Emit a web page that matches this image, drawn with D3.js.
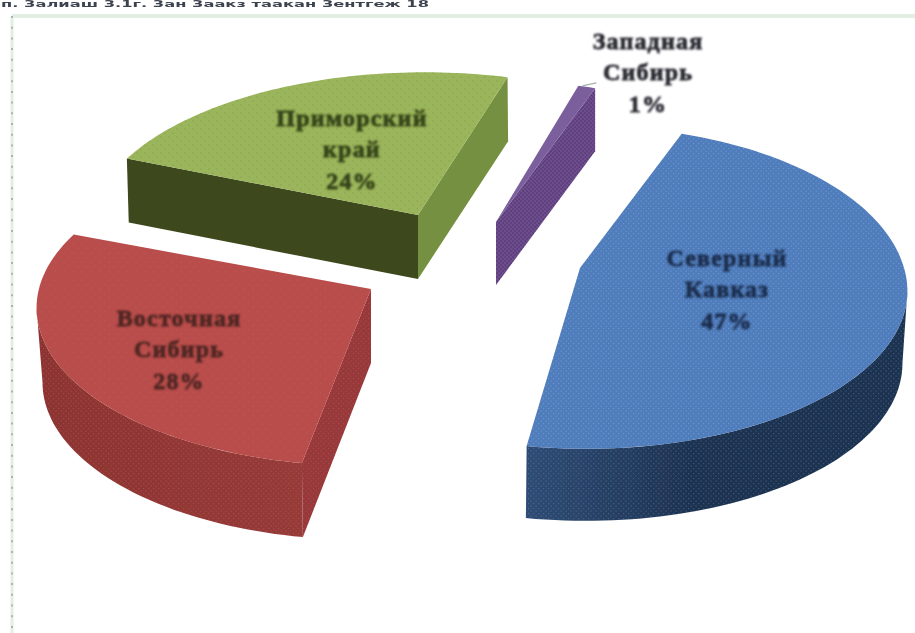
<!DOCTYPE html>
<html><head><meta charset="utf-8">
<script src="https://cdn.jsdelivr.net/npm/d3@7"></script>
<style>html,body{margin:0;padding:0;background:#fff}svg{display:block}</style>
</head><body><svg id="c" width="915" height="633"></svg>
<script>
const regions = ["Северный Кавказ","Восточная Сибирь","Приморский край","Западная Сибирь"];
const shares = [47,28,24,1];
const labelLines = [["Северный","Кавказ"],["Восточная","Сибирь"],["Приморский","край"],["Западная","Сибирь"]];
const headerText = "п. 3алиаш 3.1г. 3ан 3аакз таакан 3ентгеж 18";

// drawing configuration (per-slice placement of the exploded 3D pie)
const W=915,H=633;
const rad=Math.PI/180;
const styles=[
 {top:"#4f7cba",rim:["#1d3250","#2f4c74"],wall:"#27466f",text:"#1b2d4d",dot:"#7fa6dc",rimDot:"#6a8fc4",dotStep:5,dotOp:.6},
 {top:"#b94e4b",rim:["#8c3331","#963a38"],wall:"#97373a",text:"#4f2622",dot:"#c96a66",rimDot:"#c06a62",dotStep:9,dotOp:.3},
 {top:"#9bb55b",rim:["#3d481c","#3d481c"],wall:"#3d481c",wall2:"#74903f",text:"#36451a",dot:"#77913c",rimDot:"#3d481c",dotStep:8,dotOp:.6},
 {top:"#7a5e9c",rim:["#5a3f78","#5a3f78"],wall:"#6d4e8e",text:"#2a2a33",dot:"#7a5e9c",rimDot:"#5a3f78",dotStep:8,dotOp:0}
];
const place=[
 {apex:[580,268],cx:586,ay:268,R:318,back:1.05,depth:72,shift:-5,lx:727,ly:258},
 {apex:[371,289],cx:362,ay:285,R:322,back:1,depth:74,shift:6,lx:179,ly:318},
 {apex:[418,215],cx:425,ay:210,R:333,back:1.02,depth:64,shift:2,lx:352,ly:118},
 {apex:[496,222],cx:500,ay:216,R:316,back:1,depth:63,shift:0,lx:648,ly:41}
];
const T=154.6,k=0.145;

const svg=d3.select("#c");
const defs=svg.append("defs");
const blur=defs.append("filter").attr("id","soft").attr("x","-5%").attr("y","-5%").attr("width","110%").attr("height","110%");
blur.append("feGaussianBlur").attr("stdDeviation",0.55);
const blurT=defs.append("filter").attr("id","softT").attr("x","-5%").attr("y","-20%").attr("width","110%").attr("height","140%");
blurT.append("feGaussianBlur").attr("stdDeviation",0.95);

function dots(id,color,opacity,step){
  const p=defs.append("pattern").attr("id",id).attr("width",step).attr("height",step).attr("patternUnits","userSpaceOnUse");
  [[0.5,0.5],[step/2+0.5,step/2+0.5]].forEach(c=>p.append("rect").attr("x",c[0]).attr("y",c[1]).attr("width",1.2).attr("height",1.2).attr("fill",color).attr("opacity",opacity));
}
styles.forEach((s,i)=>{
  dots("lt"+i,s.dot,s.dotOp,s.dotStep);
  dots("rd"+i,s.rimDot,.4,5);
});
dots("pw","#2c1440",.6,4);

const root=svg.append("g");
root.append("rect").attr("width",W).attr("height",H).attr("fill","#fff");
root.append("line").attr("x1",12).attr("y1",16).attr("x2",915).attr("y2",16).attr("stroke","#e2eee2").attr("stroke-width",4);
root.append("line").attr("x1",12).attr("y1",16).attr("x2",12).attr("y2",633).attr("stroke","#e2eee2").attr("stroke-width",3);
root.append("line").attr("x1",12).attr("y1",16).attr("x2",12).attr("y2",633).attr("stroke","#a7b9a8").attr("stroke-width",2).attr("stroke-dasharray","2 8.7");
svg.append("text").attr("x",1).attr("y",7).attr("font-family","DejaVu Sans").attr("font-size",8).attr("font-weight","bold").attr("textLength",428).attr("lengthAdjust","spacingAndGlyphs").attr("fill","#3d4350").attr("filter","url(#soft)").text(headerText);

const pie=d3.pie().sort(null).startAngle(20*rad).endAngle(380*rad);
const arcs=pie(shares);
// homography: a circle on the plane of the pie maps to a true ellipse on screen
const project=(p,a,bottom=false)=>{
  const u=Math.sin(a), v=-Math.cos(a), w=1-k*v;
  const h=T*v/w*(v<0?p.back:1);
  return [p.cx+p.R*u/w+(bottom?p.shift*Math.abs(u):0), p.ay+h+(bottom?p.depth:0)];
};
const line=d3.line();
const sample=(a0,a1)=>{const n=Math.max(2,Math.ceil((a1-a0)/(1.5*rad)));return d3.range(n+1).map(i=>a0+(a1-a0)*i/n);};
const sil=Math.acos(-k);

const g=root.append("g").attr("filter","url(#soft)");
shares.forEach((_,i)=>{
  const d=arcs[i],p=place[i],st=styles[i];
  const a0=d.startAngle,a1=d.endAngle;
  const apex=p.apex,apexB=[p.apex[0],p.apex[1]+p.depth];
  const sl=g.append("g");
  // walls along the radial cuts, when they face the viewer
  [[a0,a0-Math.PI/2],[a1,a1+Math.PI/2]].forEach(([a,n],j)=>{
    if(Math.cos(n)>=0) return;
    const poly=[apex,project(p,a),project(p,a,true),apexB];
    const pd=line(poly)+"Z";
    sl.append("path").attr("d",pd).attr("fill",(j===1&&st.wall2)?st.wall2:st.wall);
    if(i===3) sl.append("path").attr("d",pd).attr("fill","url(#pw)");
    if(i===1) sl.append("path").attr("d",pd).attr("fill","url(#rd1)");
  });
  // outer rim on the front part of the ellipse
  const from=Math.max(a0,sil),to=Math.min(a1,2*Math.PI-sil);
  if(to>from){
    const as=sample(from,to);
    const poly=as.map(a=>project(p,a)).concat(as.slice().reverse().map(a=>project(p,a,true)));
    const xs=poly.map(q=>q[0]);
    const lg=defs.append("linearGradient").attr("id","rim"+i).attr("gradientUnits","userSpaceOnUse")
      .attr("x1",i===0?d3.min(xs)+170:d3.min(xs)).attr("x2",i===0?d3.min(xs):d3.max(xs)).attr("y1",0).attr("y2",0);
    lg.append("stop").attr("offset",0).attr("stop-color",st.rim[0]);
    lg.append("stop").attr("offset",1).attr("stop-color",st.rim[1]);
    const pd=line(poly)+"Z";
    sl.append("path").attr("d",pd).attr("fill",`url(#rim${i})`);
    sl.append("path").attr("d",pd).attr("fill",`url(#rd${i})`);
  }
  // top face
  const top=[apex].concat(sample(a0,a1).map(a=>project(p,a)));
  const td=line(top)+"Z";
  sl.append("path").attr("d",td).attr("fill",st.top);
  sl.append("path").attr("d",td).attr("fill",`url(#lt${i})`);
});

// leader for the smallest slice
const leadP=project(place[3],arcs[3].startAngle);
root.append("line").attr("x1",leadP[0]+4).attr("y1",leadP[1]).attr("x2",leadP[0]+18).attr("y2",leadP[1]-3).attr("stroke","#a5b2a5").attr("stroke-width",1.2);

// labels
const lab=root.append("g").attr("filter","url(#softT)").attr("font-family","Liberation Serif").attr("font-weight","bold").attr("font-size",24).attr("letter-spacing",1.2).attr("text-anchor","middle");
regions.forEach((r,i)=>{
  const p=place[i];
  const t=labelLines[i].concat([shares[i]+"%"]);
  const el=lab.append("text").attr("fill",styles[i].text).attr("stroke",styles[i].text).attr("stroke-width",.8);
  t.forEach((s,j)=>el.append("tspan").attr("x",p.lx).attr("y",p.ly+j*31.3+8).text(s));
});
</script></body></html>
